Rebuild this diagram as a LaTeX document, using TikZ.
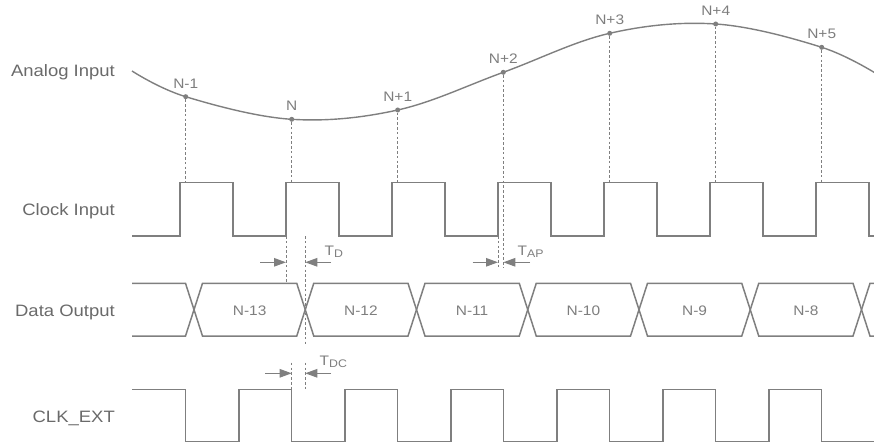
\documentclass[tikz,border=0pt]{standalone}
\usepackage{fontspec}
\setmainfont{Liberation Sans}[FakeStretch=1.12]
\usetikzlibrary{arrows.meta}
\definecolor{wire}{HTML}{7F7F7F}
\definecolor{lbl}{HTML}{6A6A6A}
\definecolor{ilbl}{HTML}{7E7E7E}
\newcommand{\subtxt}[1]{\raisebox{-2pt}{\fontsize{11}{12}\selectfont #1}}
\tikzset{
  wave/.style={draw=wire, line width=1.5pt, line join=miter},
  guide/.style={draw=wire, line width=0.9pt, dash pattern=on 2.6pt off 2.2pt},
  dimarrow/.style={draw=wire, line width=1.1pt, -{Triangle[length=12pt,width=8.5pt]}},
  rowlabel/.style={text=lbl, font=\fontsize{16.5}{18}\selectfont, anchor=base east, inner sep=0pt},
  ptlabel/.style={text=ilbl, font=\fontsize{13.8}{15}\selectfont, inner sep=0pt},
  buslabel/.style={text=ilbl, font=\fontsize{13.8}{15}\selectfont, inner sep=0pt},
  tlabel/.style={text=ilbl, font=\fontsize{13.8}{15}\selectfont, anchor=west, inner sep=0pt},
  sdot/.style={circle, fill=wire, inner sep=0pt, minimum size=5pt}
}
\begin{document}
\begin{tikzpicture}[x=1pt,y=-1pt]
\useasboundingbox (0,0) rectangle (874,446);
\clip (0,0) rectangle (874,446);

% row labels
\node[rowlabel] (lanalog) at (115,76.7) {Analog Input};
\node[rowlabel] (lclock) at (115,215) {Clock Input};
\node[rowlabel] (ldata) at (115,316.7) {Data Output};
\node[rowlabel] (lclkext) at (115,422.3) {CLK\_EXT};

% analog input curve
\draw[wave, line width=1.4pt] plot[smooth, tension=0.6] coordinates
  {(132,71) (185.7,96.7) (291.7,119.3) (397.7,110) (503.3,72.3) (609.7,33.3) (715.7,24) (821.7,47.3) (880,76)};

% sample points
\foreach \nm/\x/\y/\t in {s1/185.7/96.7/N-1, s2/291.7/119.3/N, s3/397.7/110/N+1, s4/503.3/72.3/N+2, s5/609.7/33.3/N+3, s6/715.7/24/N+4, s7/821.7/47.3/N+5}{
  \node[sdot] (\nm) at (\x,\y) {};
  \node[ptlabel] (\nm l) at (\x,\y-13.4) {\t};
}

% clock input
\draw[wave] (132,236) -- (180,236) -- (180,182.3) -- (233,182.3) -- (233,236) -- (286,236) -- (286,182.3) -- (339,182.3) -- (339,236) -- (392,236) -- (392,182.3) -- (445,182.3) -- (445,236) -- (498,236) -- (498,182.3) -- (551,182.3) -- (551,236) -- (604,236) -- (604,182.3) -- (657,182.3) -- (657,236) -- (710,236) -- (710,182.3) -- (763,182.3) -- (763,236) -- (816,236) -- (816,182.3) -- (869,182.3) -- (869,236) -- (880,236);

% guides from samples to clock
\foreach \nm in {s1,s2,s3,s5,s6,s7}{
  \coordinate (\nm c) at (\nm |- 0,182.3);
  \draw[guide] (\nm) -- (\nm c);
}
\coordinate (s4c) at (503.3,268);
\draw[guide] (s4) -- (s4c);

% data output bus
\def\dt{283.3}\def\db{336}\def\dm{309.7}\def\dh{8.5}
\draw[wave] (132,\dt) -- (194-\dh,\dt) -- (194,\dm) -- (194-\dh,\db) -- (132,\db);
\foreach \a/\b in {194/305.25, 305.25/416.5, 416.5/527.75, 527.75/639, 639/750.25, 750.25/861.5}{
  \draw[wave] (\a,\dm) -- (\a+\dh,\dt) -- (\b-\dh,\dt) -- (\b,\dm) -- (\b-\dh,\db) -- (\a+\dh,\db) -- cycle;
}
\draw[wave] (880,\dt) -- (861.5+\dh,\dt) -- (861.5,\dm) -- (861.5+\dh,\db) -- (880,\db);
\foreach \nm/\x/\t in {d13/249.6/N-13, d12/360.9/N-12, d11/472.1/N-11, d10/583.4/N-10, d9/694.6/N-9, d8/805.9/N-8}{
  \node[buslabel] (\nm) at (\x,310.8) {\t};
}

% CLK_EXT
\draw[wave] (132,389.3) -- (185.7,389.3) -- (185.7,441.7) -- (239,441.7) -- (239,389.3) -- (291.7,389.3) -- (291.7,441.7) -- (345,441.7) -- (345,389.3) -- (397.7,389.3) -- (397.7,441.7) -- (451,441.7) -- (451,389.3) -- (503.7,389.3) -- (503.7,441.7) -- (557,441.7) -- (557,389.3) -- (609.7,389.3) -- (609.7,441.7) -- (663,441.7) -- (663,389.3) -- (715.7,389.3) -- (715.7,441.7) -- (769,441.7) -- (769,389.3) -- (821.7,389.3) -- (821.7,441.7) -- (880,441.7);

% T_D
\coordinate (tda) at (286,236);
\coordinate (tdb) at (286,283.3);
\coordinate (tdc) at (305.25,236);
\coordinate (tdd) at (305.25,346);
\draw[guide] (tda) -- (tdb);
\draw[guide] (tdc) -- (tdd);
\coordinate (tdl) at (260,262.3);
\coordinate (tdr) at (331,262.3);
\draw[dimarrow] (tdl) -- (tda |- tdl);
\draw[dimarrow] (tdr) -- (tdc |- tdr);
\node[tlabel] (tdlab) at (324.5,252) {T\subtxt{D}};

% T_AP
\coordinate (tapa) at (498,236);
\coordinate (tapb) at (498,268);
\draw[guide] (tapa) -- (tapb);
\coordinate (tapl) at (472.7,262.3);
\coordinate (tapr) at (530,262.3);
\draw[dimarrow] (tapl) -- (tapa |- tapl);
\draw[dimarrow] (tapr) -- (s4c |- tapr);
\node[tlabel] (taplab) at (517.5,251.5) {T\subtxt{AP}};

% T_DC
\coordinate (tdca) at (291.7,362.7);
\coordinate (tdcb) at (291.7,389.3);
\coordinate (tdcc) at (305.25,362.7);
\coordinate (tdcd) at (305.25,389.3);
\draw[guide] (tdca) -- (tdcb);
\draw[guide] (tdcc) -- (tdcd);
\coordinate (tdcl) at (265,373.3);
\coordinate (tdcr) at (331,373.3);
\draw[dimarrow] (tdcl) -- (tdca |- tdcl);
\draw[dimarrow] (tdcr) -- (tdcc |- tdcr);
\node[tlabel] (tdclab) at (319.5,361.5) {T\subtxt{DC}};
\end{tikzpicture}
\end{document}
